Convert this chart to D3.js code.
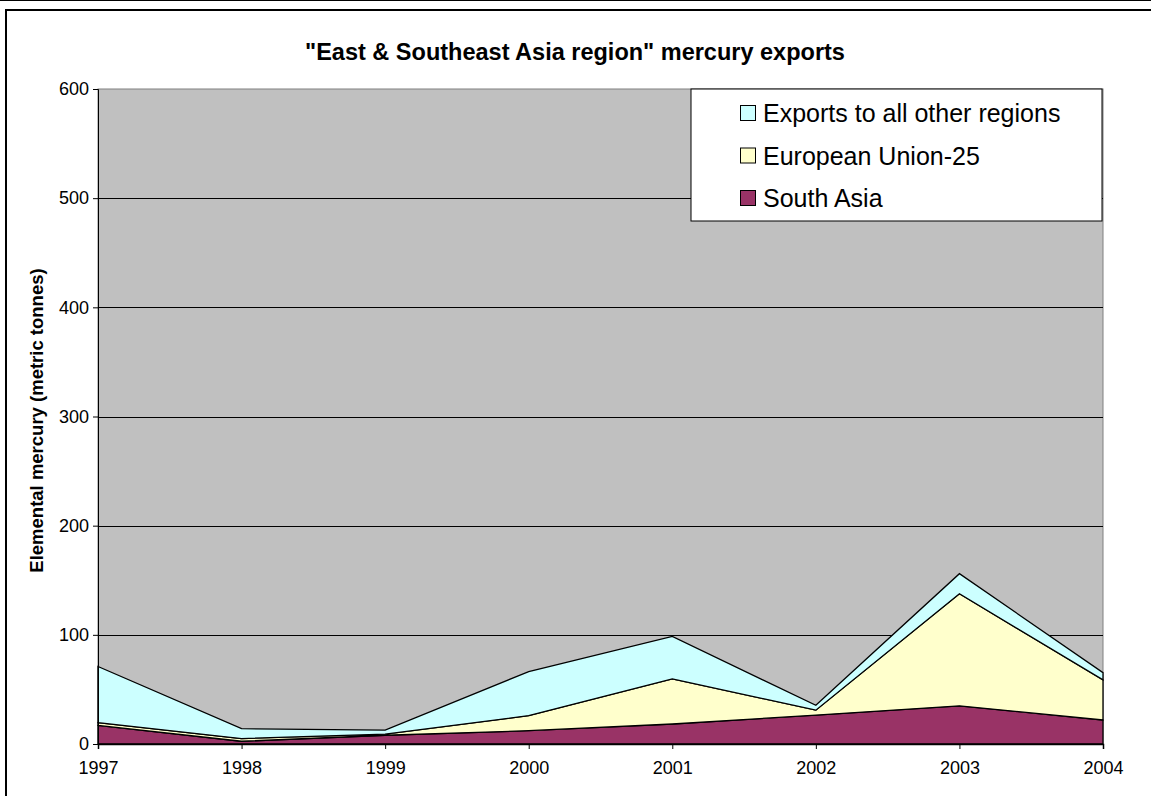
<!DOCTYPE html>
<html>
<head>
<meta charset="utf-8">
<script src="https://cdnjs.cloudflare.com/ajax/libs/d3/7.8.5/d3.min.js"></script>
<style>
  body { margin: 0; background: #fff; font-family: Arial, "Liberation Sans", sans-serif; }
  .tick text { font-family: Arial, "Liberation Sans", sans-serif; fill: #000; }
</style>
</head>
<body>
<div id="canvas"></div>
<script>
const years = [1997, 1998, 1999, 2000, 2001, 2002, 2003, 2004];
const southAsia = [17, 2.5, 8, 12.2, 18.3, 26.5, 35, 22];
const euro25 = [2.5, 2.5, 1, 13.8, 41.3, 4.5, 102.6, 36.7];
const otherRegions = [51.5, 9, 3.8, 40.3, 38.9, 4.5, 18.4, 6.7];
const yTicks = [0, 100, 200, 300, 400, 500, 600];

const seriesNames = ["South Asia", "European Union-25", "Exports to all other regions"];
const colors = {
  "South Asia": "#993366",
  "European Union-25": "#FFFFCC",
  "Exports to all other regions": "#CCFFFF"
};

const w = 1151;
const h = 796;
const margin = { top: 89, bottom: 52, left: 98, right: 48 };
const width = w - margin.left - margin.right;
const height = h - margin.top - margin.bottom;

const svg = d3.select("#canvas").append("svg")
  .attr("width", w)
  .attr("height", h);

// outer frame
svg.append("line")
  .attr("x1", 0).attr("x2", w).attr("y1", 0.5).attr("y2", 0.5)
  .attr("stroke", "#000").attr("stroke-width", 1);
svg.append("path")
  .attr("d", "M6," + h + " V10 H" + w)
  .attr("fill", "none")
  .attr("stroke", "#000")
  .attr("stroke-width", 2);

// title
svg.append("text")
  .attr("x", 575)
  .attr("y", 60)
  .attr("text-anchor", "middle")
  .style("font-size", "23.5px")
  .style("font-weight", "bold")
  .text("\"East & Southeast Asia region\" mercury exports");

const chart = svg.append("g")
  .attr("transform", "translate(" + margin.left + "," + margin.top + ")");

const rows = years.map(function(yr, i) {
  return {
    year: yr,
    "South Asia": southAsia[i],
    "European Union-25": euro25[i],
    "Exports to all other regions": otherRegions[i]
  };
});

const stacked = d3.stack().keys(seriesNames)(rows);

const x = d3.scalePoint()
  .domain(years)
  .range([0, width]);

const y = d3.scaleLinear()
  .domain([0, 600])
  .range([height, 0]);

// plot background
chart.append("rect")
  .attr("width", width)
  .attr("height", height)
  .attr("fill", "#C0C0C0")
  .attr("stroke", "#808080")
  .attr("stroke-width", 1);

// gridlines
chart.append("g")
  .selectAll("line")
  .data(yTicks.filter(function(t) { return t > 0 && t < 600; }))
  .enter()
  .append("line")
  .attr("x1", 0)
  .attr("x2", width)
  .attr("y1", function(d) { return Math.round(y(d)) + 0.5; })
  .attr("y2", function(d) { return Math.round(y(d)) + 0.5; })
  .attr("stroke", "#000")
  .attr("stroke-width", 1);

const area = d3.area()
  .x(function(d) { return x(d.data.year); })
  .y0(function(d) { return y(d[0]); })
  .y1(function(d) { return y(d[1]); });

chart.selectAll(".layer")
  .data(stacked)
  .enter()
  .append("path")
  .classed("layer", true)
  .attr("d", area)
  .attr("fill", function(d) { return colors[d.key]; })
  .attr("stroke", "#000")
  .attr("stroke-width", 1.3)
  .attr("stroke-linejoin", "miter");

// axes
const yAxis = d3.axisLeft(y)
  .tickValues(yTicks)
  .tickSize(5)
  .tickPadding(4);

const xAxis = d3.axisBottom(x)
  .tickSize(5)
  .tickPadding(12);

const gy = chart.append("g").call(yAxis);
gy.selectAll("text").style("font-size", "18px");
gy.select(".domain").attr("stroke", "#000");

const gx = chart.append("g")
  .attr("transform", "translate(0," + height + ")")
  .call(xAxis);
gx.selectAll("text").style("font-size", "18px");
gx.select(".domain").attr("stroke", "#000").attr("stroke-width", 1.5);

// y axis label
svg.append("text")
  .attr("transform", "translate(43," + (margin.top + height / 2 + 4) + ") rotate(-90)")
  .attr("text-anchor", "middle")
  .style("font-size", "18.5px")
  .style("font-weight", "bold")
  .text("Elemental mercury (metric tonnes)");

// legend
const legend = svg.append("g")
  .attr("transform", "translate(691,89)");

legend.append("rect")
  .attr("width", 411)
  .attr("height", 132)
  .attr("fill", "#fff")
  .attr("stroke", "#000")
  .attr("stroke-width", 1);

const legendItems = seriesNames.slice().reverse();
legendItems.forEach(function(name, i) {
  const cy = 24 + i * 42.5;
  legend.append("rect")
    .attr("x", 49.5)
    .attr("y", cy - 7.5)
    .attr("width", 15)
    .attr("height", 15)
    .attr("fill", colors[name])
    .attr("stroke", "#000")
    .attr("stroke-width", 1);
  legend.append("text")
    .attr("x", 72)
    .attr("y", cy + 9)
    .style("font-size", "25px")
    .text(name);
});
</script>
</body>
</html>
